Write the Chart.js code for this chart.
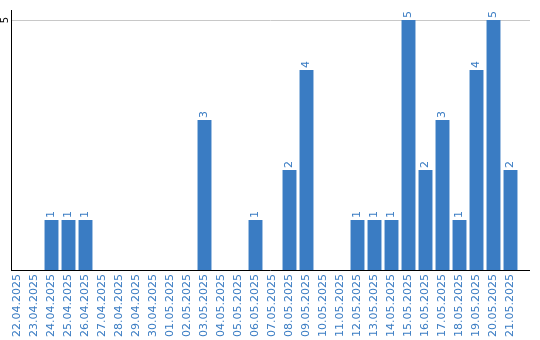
<!DOCTYPE html>
<html>
<head>
<meta charset="utf-8">
<script src="https://cdn.jsdelivr.net/npm/chart.js@4/dist/chart.umd.min.js"></script>
<style>
  html, body { margin: 0; padding: 0; background: #fff; }
  #wrap { width: 540px; height: 340px; }
</style>
</head>
<body>
<div id="wrap"><canvas id="myChart" width="540" height="340"></canvas></div>
<script>
const dates = ['22.04.2025', '23.04.2025', '24.04.2025', '25.04.2025', '26.04.2025', '27.04.2025',
    '28.04.2025', '29.04.2025', '30.04.2025', '01.05.2025', '02.05.2025', '03.05.2025',
    '04.05.2025', '05.05.2025', '06.05.2025', '07.05.2025', '08.05.2025', '09.05.2025',
    '10.05.2025', '11.05.2025', '12.05.2025', '13.05.2025', '14.05.2025', '15.05.2025',
    '16.05.2025', '17.05.2025', '18.05.2025', '19.05.2025', '20.05.2025', '21.05.2025'];
const counts = [0, 0, 1, 1, 1, 0, 0, 0, 0, 0, 0, 3, 0, 0, 1, 0, 2, 4, 0, 0, 1, 1, 1, 5, 2, 3, 1, 4, 5, 2];
const yTicks = [5];

const blue = '#3a7cc3';
const lineStart = 11;
const lineEnd = 530;

// value labels above bars, rotated
const valueLabels = {
    id: 'valueLabels',
    afterDatasetsDraw(chart) {
        const ctx = chart.ctx;
        const meta = chart.getDatasetMeta(0);
        ctx.save();
        ctx.font = '11px "DejaVu Sans"';
        ctx.fillStyle = blue;
        ctx.textAlign = 'left';
        ctx.textBaseline = 'middle';
        meta.data.forEach((bar, i) => {
            if (!counts[i]) return;
            ctx.save();
            ctx.translate(bar.x, bar.y - 2);
            ctx.rotate(-Math.PI / 2);
            ctx.fillText(String(counts[i]), 0, 0);
            ctx.restore();
        });
        ctx.restore();
    }
};

// grid line and axes drawn by hand so they can run a bit wider than the bars
const axisExtras = {
    id: 'axisExtras',
    beforeDatasetsDraw(chart) {
        const ctx = chart.ctx;
        const y = chart.scales.y;
        const area = chart.chartArea;
        ctx.save();
        ctx.lineWidth = 1;
        ctx.strokeStyle = '#c8c8c8';
        yTicks.forEach(v => {
            const py = Math.round(y.getPixelForValue(v)) + 0.5;
            ctx.beginPath();
            ctx.moveTo(lineStart, py);
            ctx.lineTo(lineEnd, py);
            ctx.stroke();
        });
        ctx.strokeStyle = '#000';
        const by = Math.round(area.bottom) + 0.5;
        ctx.beginPath();
        ctx.moveTo(lineStart, by);
        ctx.lineTo(lineEnd, by);
        ctx.stroke();
        ctx.beginPath();
        ctx.moveTo(lineStart + 0.5, area.top);
        ctx.lineTo(lineStart + 0.5, by + 0.5);
        ctx.stroke();

        ctx.fillStyle = '#000';
        ctx.font = '10px "DejaVu Sans"';
        ctx.textAlign = 'center';
        ctx.textBaseline = 'middle';
        yTicks.forEach(v => {
            ctx.save();
            ctx.translate(5.5, y.getPixelForValue(v));
            ctx.rotate(-Math.PI / 2);
            ctx.fillText(String(v), 0, 0);
            ctx.restore();
        });
        ctx.restore();
    }
};

const ctx = document.getElementById('myChart').getContext('2d');
const myChart = new Chart(ctx, {
    type: 'bar',
    data: {
        labels: dates,
        datasets: [{
            data: counts,
            backgroundColor: blue,
            categoryPercentage: 1,
            barPercentage: 0.82
        }]
    },
    options: {
        responsive: false,
        animation: false,
        layout: { padding: { top: 10, right: 21, left: 0, bottom: 0 } },
        plugins: {
            legend: { display: false },
            tooltip: { enabled: false }
        },
        scales: {
            x: {
                grid: { display: false, drawTicks: false },
                border: { display: false },
                ticks: {
                    color: blue,
                    font: { family: 'DejaVu Sans', size: 11 },
                    minRotation: 90,
                    maxRotation: 90,
                    autoSkip: false,
                    padding: 4
                },
                afterFit(scale) { scale.height = 70; }
            },
            y: {
                min: 0,
                max: 5.2,
                afterBuildTicks(scale) { scale.ticks = yTicks.map(v => ({ value: v })); },
                grid: { display: false },
                border: { display: false },
                ticks: { display: false },
                afterFit(scale) { scale.width = 9; }
            }
        }
    },
    plugins: [valueLabels, axisExtras]
});
</script>
</body>
</html>
